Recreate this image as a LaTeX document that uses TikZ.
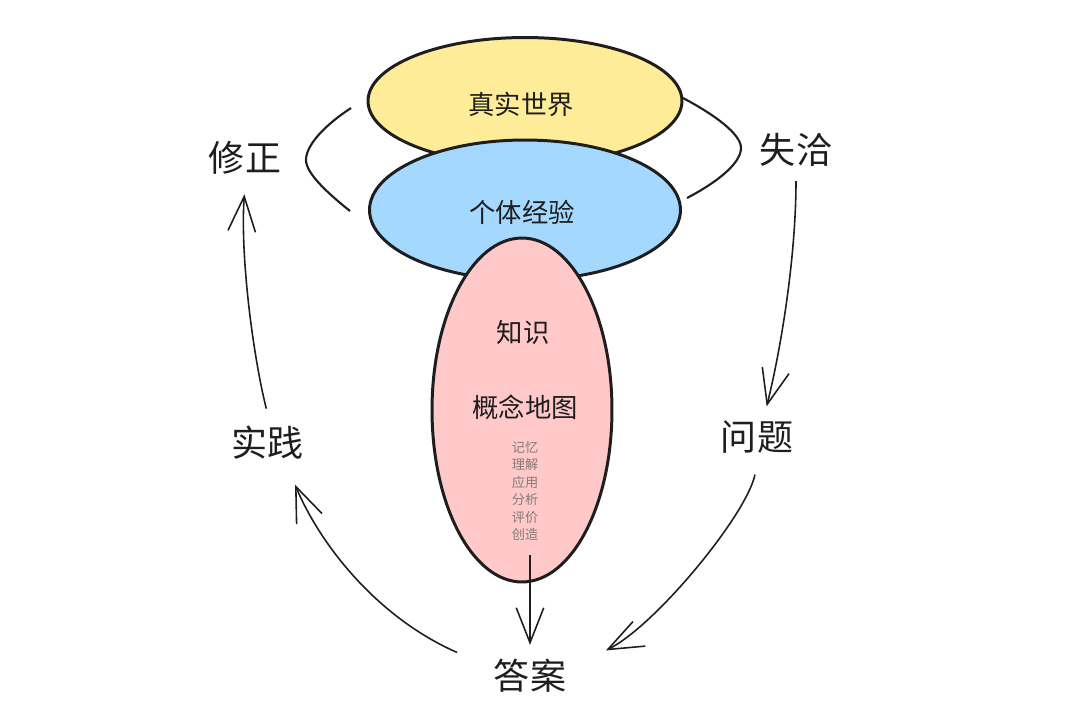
\documentclass[tikz,border=0pt]{standalone}
\usepackage{fontspec}
\newfontfamily\cjk{Noto Sans CJK SC}
\usetikzlibrary{arrows.meta}
\usetikzlibrary{shapes.geometric}

\definecolor{inkblack}{HTML}{1E1E1E}
\definecolor{worldyellow}{HTML}{FFEC99}
\definecolor{selfblue}{HTML}{A5D8FF}
\definecolor{knowpink}{HTML}{FFC9C9}
\definecolor{listgrey}{HTML}{857A7B}

\begin{document}
\begin{tikzpicture}[
        x=0.02cm, y=-0.02cm,
        >={Straight Barb[length=7mm,width=5.5mm]},
        tag/.style={font=\cjk\fontsize{20.5}{24}\selectfont, text=inkblack, inner sep=6pt},
        blob/.style={ellipse, draw=inkblack, line width=1.7pt, inner sep=0pt},
        inner/.style={font=\cjk\fontsize{15}{18}\selectfont, text=inkblack},
        sketch/.style={draw=inkblack, line width=0.9pt},
    ]
    \useasboundingbox (0,0) rectangle (1080,718);

    % the three blobs, drawn back to front
    \node[blob, fill=worldyellow, minimum width=6.28cm, minimum height=2.54cm] (world) at (525,101) {};
    \node[inner] (worldtext) at (521,104) {真实世界};
    \node[blob, fill=selfblue, minimum width=6.22cm, minimum height=2.8cm] (self) at (525,210) {};
    \node[inner] (selftext) at (522,212) {个体经验};
    \node[blob, fill=knowpink, minimum width=3.6cm, minimum height=6.88cm] (know) at (522,410) {};
    \node[inner] (zhishi) at (523,332) {知识};
    \node[inner] (gainian) at (525,407) {概念地图};
    \node[font=\cjk\fontsize{7.5}{9.9}\selectfont, text=listgrey, align=center] (levels) at (525,491)
        {记忆\\理解\\应用\\分析\\评价\\创造};

    % words round the cycle
    \node[tag] (xiuzheng) at (245,158) {修正};
    \node[tag] (shiqia) at (796,150) {失洽};
    \node[tag] (shijian) at (268,443) {实践};
    \node[tag] (wenti) at (757,437) {问题};
    \node[tag] (daan) at (530,676) {答案};

    % brackets round the two top blobs
    \draw[sketch, line width=1.2pt] (351,108) .. controls (325,125) and (306,145) .. (306,160)
        .. controls (306,174) and (330,195) .. (350,211);
    \draw[sketch, line width=1.2pt] (683,98) .. controls (715,115) and (741,134) .. (741,148)
        .. controls (741,165) and (712,185) .. (687,198);

    % the cycle
    \draw[sketch, ->, shorten <=4pt, shorten >=5pt] (shijian.north) .. controls +(-15,-60) and +(-5,70) .. (xiuzheng.south);
    \draw[sketch, ->, shorten <=2pt, shorten >=2pt] (shiqia.south) .. controls +(0,80) and +(15,-60) .. ([xshift=5]wenti.north);
    \draw[sketch, ->, shorten <=6pt] (wenti.south) .. controls +(-10,50) and +(50,-25) .. ([shift={(29,2)}]daan.north east);
    \draw[sketch, ->] ([shift={(-26,4)}]daan.north west) .. controls +(-80,-35) and +(25,60) .. ([shift={(27,14)}]shijian.south);

    \coordinate (tail) at (530,555);
    \draw[sketch, ->, shorten >=2pt] (tail) -- (daan.north);
\end{tikzpicture}
\end{document}
